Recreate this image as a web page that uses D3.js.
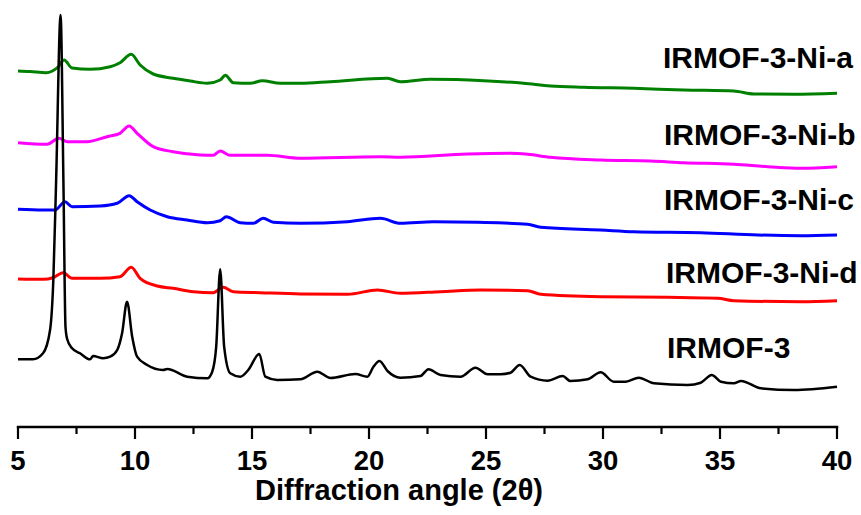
<!DOCTYPE html>
<html>
<head>
<meta charset="utf-8">
<script src="https://cdn.jsdelivr.net/npm/d3@7"></script>
<style>
  html, body { margin: 0; padding: 0; background: #fff; }
  svg { display: block; }
  text { font-family: "Liberation Sans", Arial, sans-serif; font-weight: bold; fill: #000; }
</style>
</head>
<body>
<svg id="chart" width="861" height="515"></svg>
<script>
// XRD patterns, stacked with vertical offsets (intensity in a.u.)
const seriesNames = ["IRMOF-3-Ni-a", "IRMOF-3-Ni-b", "IRMOF-3-Ni-c", "IRMOF-3-Ni-d", "IRMOF-3"];
const seriesColors = ["#008000", "#ff00ff", "#0000ff", "#ff0000", "#000000"];

// [2θ, intensity]
const niA = [
  [5.00, 356], [5.51, 355.5], [6.20, 354.3], [6.71, 360], [6.97, 367], [7.31, 359],
  [8.08, 357.7], [8.94, 360.3], [9.36, 364.3], [9.84, 372.7], [10.22, 362], [10.78, 353],
  [11.63, 348.7], [12.36, 346], [13.09, 343.7], [13.64, 347], [13.86, 351.7], [14.20, 344.3],
  [14.93, 343.7], [15.44, 346.3], [16.21, 343.7], [17.07, 343.7], [18.35, 345.3], [20.79, 348.7],
  [21.34, 345.3], [22.63, 347.7], [24.90, 346.3], [26.61, 343.7], [27.76, 341], [29.18, 339.7],
  [31.31, 338.7], [33.45, 337], [35.59, 336], [36.45, 333], [38.16, 332.7], [40.00, 333.7]
];
const niB = [
  [5.00, 284.3], [6.24, 282.7], [6.75, 288.7], [7.10, 285.3], [7.95, 285.3], [8.81, 290.3],
  [9.36, 293.7], [9.75, 301], [10.09, 293.7], [10.78, 280.3], [11.63, 275.3], [12.79, 272],
  [13.34, 271.7], [13.64, 276], [14.07, 271.7], [15.65, 271.7], [17.07, 268.7], [20.49, 270.3],
  [21.34, 269.7], [24.21, 273], [26.05, 273.7], [26.78, 272.7], [27.76, 269.7], [29.90, 267],
  [32.04, 266], [33.45, 264.3], [35.59, 262.7], [37.05, 260.3], [38.46, 258.7], [40.00, 260.3]
];
const niC = [
  [5.00, 217.7], [6.07, 217], [6.58, 217], [7.01, 225.3], [7.31, 220.3], [8.51, 221],
  [9.24, 223.7], [9.75, 231.3], [10.09, 225.3], [10.65, 217], [11.38, 210.3], [12.23, 207],
  [13.09, 204.3], [13.64, 206.3], [13.90, 210.3], [14.50, 204.3], [15.06, 203.7], [15.48, 208.7],
  [15.91, 204.7], [17.07, 203.7], [19.08, 205.3], [20.49, 208.7], [21.34, 203.7], [22.76, 205.3],
  [24.64, 204.7], [26.78, 202.7], [27.34, 199.7], [29.90, 197], [31.31, 195.3], [34.18, 194.3],
  [36.62, 192], [38.46, 191.3], [40.00, 192]
];
const niD = [
  [5.00, 148], [6.07, 147.7], [6.50, 149.3], [6.93, 154.3], [7.31, 148.7], [8.51, 148.7],
  [9.36, 150.3], [9.84, 159.7], [10.22, 148.7], [10.95, 141], [11.63, 138.7], [12.49, 135.3],
  [13.34, 134.3], [13.77, 139.7], [14.20, 135.3], [15.35, 134.3], [17.07, 133], [19.08, 132.7],
  [20.36, 137], [21.34, 133.7], [23.06, 135.3], [24.77, 137], [26.78, 136.3], [27.34, 132.7],
  [29.90, 130.3], [32.77, 129.7], [34.91, 128.7], [35.59, 126.3], [38.46, 125.3], [40.00, 126.3]
];
const irmof3 = [
  [5.00, 67.7], [5.64, 67.7], [6.07, 73.7], [6.37, 97], [6.51, 147], [6.63, 247], [6.82, 412],
  [6.94, 247], [7.03, 100], [7.10, 88], [7.31, 78.7], [7.65, 73.7], [8.08, 67.7], [8.21, 71],
  [8.64, 68.7], [8.94, 70.3], [9.24, 77], [9.45, 94], [9.66, 125.3], [9.88, 90.3], [10.09, 70.3],
  [10.52, 62], [11.20, 57], [11.38, 58], [12.23, 50.3], [13.09, 48.7], [13.30, 55.3], [13.47, 80.3],
  [13.64, 157.7], [13.81, 80.3], [14.07, 53.7], [14.50, 50.3], [14.84, 57], [15.31, 73],
  [15.57, 50.3], [16.08, 47], [17.07, 47.7], [17.79, 55.3], [18.35, 49], [19.42, 53],
  [19.93, 50.3], [20.19, 60.3], [20.45, 66], [20.79, 56], [21.34, 49.3], [22.20, 51],
  [22.54, 57.7], [23.06, 52], [23.91, 50.3], [24.55, 59.3], [25.07, 52.7], [25.62, 52.7],
  [26.05, 54.3], [26.44, 62], [26.91, 50.3], [27.63, 46.3], [28.28, 51], [28.60, 46],
  [29.35, 47.7], [29.90, 54.7], [30.46, 45.3], [30.97, 45.3], [31.53, 49.3], [32.17, 43.7],
  [33.62, 42], [34.18, 44.3], [34.65, 52], [35.04, 45.3], [35.59, 43.7], [35.90, 46],
  [36.75, 38.7], [38.16, 37], [40.00, 40.3]
];
const seriesData = [niA, niB, niC, niD, irmof3];

const xTicks = [5, 10, 15, 20, 25, 30, 35, 40];
const xMinorTicks = [7.5, 12.5, 17.5, 22.5, 27.5, 32.5, 37.5];
const xTitle = "Diffraction angle (2\u03b8)";

// Layout
const plot = { left: 18, right: 837, top: 0, bottom: 427 };
const labelPos = [
  { x: 663, y: 68 }, { x: 664, y: 145 }, { x: 664, y: 210 }, { x: 666, y: 283 }, { x: 667, y: 358 }
];

const svg = d3.select("#chart");

const x = d3.scaleLinear().domain([5, 40]).range([plot.left, plot.right]);
const y = d3.scaleLinear().domain([0, 427]).range([plot.bottom, plot.top]);

const line = d3.line()
  .x(d => x(d[0]))
  .y(d => y(d[1]))
  .curve(d3.curveMonotoneX);

// Traces (IRMOF-3 drawn last so its sharp peak sits on top)
seriesData.forEach((data, i) => {
  svg.append("path")
    .datum(data)
    .attr("fill", "none")
    .attr("stroke", seriesColors[i])
    .attr("stroke-width", i === 4 ? 2.5 : 3)
    .attr("stroke-linejoin", "round")
    .attr("d", line);
});

// Sample labels
seriesNames.forEach((name, i) => {
  svg.append("text")
    .attr("x", labelPos[i].x)
    .attr("y", labelPos[i].y)
    .attr("font-size", 30)
    .text(name);
});

// Bottom axis
const axisG = svg.append("g").attr("transform", `translate(0,${plot.bottom})`);
axisG.append("line")
  .attr("x1", plot.left).attr("x2", plot.right)
  .attr("y1", 0).attr("y2", 0)
  .attr("stroke", "#000").attr("stroke-width", 2.5)
  .attr("stroke-linecap", "square");
axisG.selectAll(".major").data(xTicks).join("line")
  .attr("class", "major")
  .attr("x1", d => x(d)).attr("x2", d => x(d))
  .attr("y1", 0).attr("y2", 12)
  .attr("stroke", "#000").attr("stroke-width", 2.2);
axisG.selectAll(".minor").data(xMinorTicks).join("line")
  .attr("class", "minor")
  .attr("x1", d => x(d)).attr("x2", d => x(d))
  .attr("y1", 0).attr("y2", 7)
  .attr("stroke", "#000").attr("stroke-width", 2.2);
axisG.selectAll(".tlabel").data(xTicks).join("text")
  .attr("class", "tlabel")
  .attr("x", d => x(d))
  .attr("y", 43)
  .attr("text-anchor", "middle")
  .attr("font-size", 27.5)
  .text(d => d);

svg.append("text")
  .attr("x", 399)
  .attr("y", 500)
  .attr("text-anchor", "middle")
  .attr("font-size", 29)
  .text(xTitle);
</script>
</body>
</html>
